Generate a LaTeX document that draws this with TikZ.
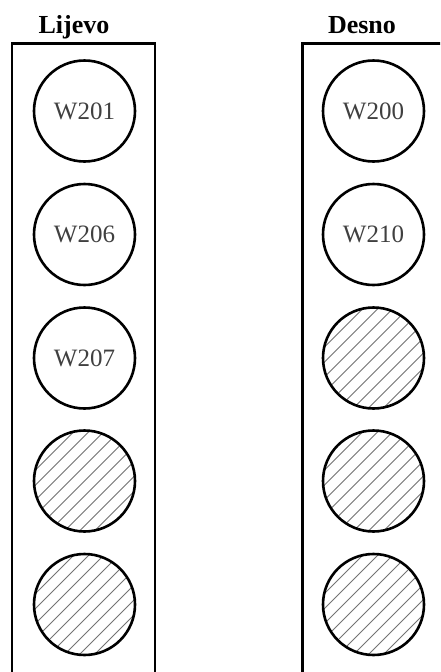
\documentclass[tikz,border=0pt]{standalone}
\usepackage{fontspec}
\setmainfont{Liberation Serif}
\usetikzlibrary{calc}
\tikzset{
  wire/.style={circle, draw=black, line width=2.6pt, minimum size=101pt, inner sep=0pt,
    font=\fontsize{25}{25}\selectfont, text=black!75},
  hatched/.style={wire, path picture={
    \foreach \k in {-8,...,8}
      \draw[black!55, line width=0.8pt]
        ($(path picture bounding box.center)+(\k*15-80,80)$) --
        ($(path picture bounding box.center)+(\k*15+80,-80)$);}},
  frame/.style={draw=black, line width=2.6pt},
  title/.style={anchor=base, inner sep=0pt, font=\fontsize{26}{26}\selectfont\bfseries}
}
\begin{document}
\begin{tikzpicture}[x=1pt,y=-1pt]
\useasboundingbox (0,0) rectangle (440,672);
\clip (0,0) rectangle (440,672);
\fill[white] (0,0) rectangle (440,672);
\node[title] (tl) at (74,33) {Lijevo};
\node[title] (tr) at (362,33) {Desno};
\draw[frame] (12,690) -- (12,43.5) -- (155,43.5) -- (155,690);
\draw[frame] (302.5,690) -- (302.5,43.5) -- (460,43.5);
\node[wire] (l1) at (84.5,111) {W201};
\node[wire] (l2) at (84.5,234.5) {W206};
\node[wire] (l3) at (84.5,358) {W207};
\node[hatched] (l4) at (84.5,481) {};
\node[hatched] (l5) at (84.5,604.5) {};
\node[wire] (r1) at (373.5,111) {W200};
\node[wire] (r2) at (373.5,234.5) {W210};
\node[hatched] (r3) at (373.5,358) {};
\node[hatched] (r4) at (373.5,481) {};
\node[hatched] (r5) at (373.5,604.5) {};
\end{tikzpicture}
\end{document}
